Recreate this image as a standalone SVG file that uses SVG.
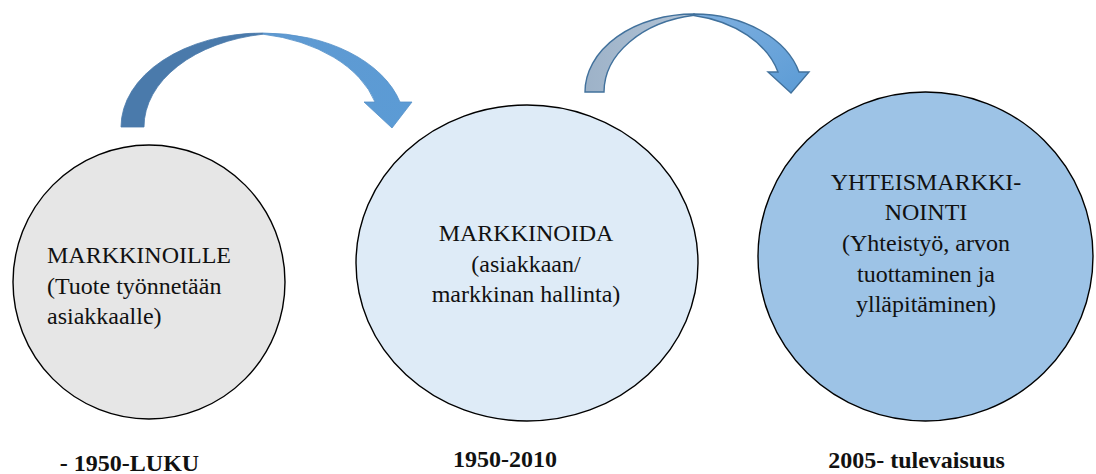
<svg xmlns="http://www.w3.org/2000/svg" width="1096" height="474" viewBox="0 0 1096 474">
  <defs>
    <linearGradient id="frontA" x1="0" y1="0" x2="1" y2="1">
      <stop offset="0" stop-color="#5f9ad2"/>
      <stop offset="1" stop-color="#5b9bd5"/>
    </linearGradient>
    <linearGradient id="frontB" x1="0" y1="0" x2="1" y2="1">
      <stop offset="0" stop-color="#7fb0e0"/>
      <stop offset="1" stop-color="#5b9bd5"/>
    </linearGradient>
    <linearGradient id="backB" x1="0" y1="0" x2="1" y2="0">
      <stop offset="0" stop-color="#9db2c8"/>
      <stop offset="1" stop-color="#b3c4d6"/>
    </linearGradient>
    <style>
      .node { stroke: #000; stroke-width: 1.4; }
      text { font-family: 'Liberation Serif', 'DejaVu Serif', serif; font-size: 24px; fill: #111; }
      .mid { text-anchor: middle; }
      .era { font-weight: bold; text-anchor: middle; }
      .backA { fill: #4a7aab; stroke: #4a7aab; stroke-width: 0.8; }
      .frontA { fill: url(#frontA); stroke: #5590c8; stroke-width: 0.8; }
      .backB { fill: url(#backB); stroke: #41719c; stroke-width: 1.4; }
      .frontB { fill: url(#frontB); stroke: #41719c; stroke-width: 1.4; }
    </style>
  </defs>

  <!-- curved transition arrows: a shaded back band and a lit front band with head -->
  <g id="connectors">
    <g id="arrow-1">
      <path class="backA" d="M121,127 A142,94 0 0 1 263,33 L263,34.2 A142,94 0 0 0 144,127 Z"/>
      <path class="frontA" d="M263,33 A142,94 0 0 1 400,102 L412,102 L392,128 L364,102 L375,102 A142,94 0 0 0 263,34.2 Z"/>
    </g>
    <g id="arrow-2">
      <path class="backB" d="M585,92 A109,78 0 0 1 694,14 L694,15.3 A109,78 0 0 0 604,92 Z"/>
      <path class="frontB" d="M694,14 A109,78 0 0 1 799,72 L809,72 L791,93 L768,72 L778,72 A109,78 0 0 0 694,15.5 Z"/>
    </g>
  </g>

  <g id="node-markkinoille">
    <ellipse class="node" cx="149" cy="282" rx="136" ry="137" fill="#e6e6e6"/>
    <text font-family="Liberation Serif, serif" x="47" y="263">MARKKINOILLE</text>
    <text font-family="Liberation Serif, serif" x="47" y="294">(Tuote työnnetään</text>
    <text font-family="Liberation Serif, serif" x="47" y="324">asiakkaalle)</text>
  </g>

  <g id="node-markkinoida">
    <ellipse class="node" cx="527" cy="263" rx="171" ry="158" fill="#deebf7"/>
    <text class="mid" font-family="Liberation Serif, serif" x="526" y="241">MARKKINOIDA</text>
    <text class="mid" font-family="Liberation Serif, serif" x="526" y="272">(asiakkaan/</text>
    <text class="mid" font-family="Liberation Serif, serif" x="526" y="302">markkinan hallinta)</text>
  </g>

  <g id="node-yhteismarkkinointi">
    <ellipse class="node" cx="925.5" cy="256.5" rx="167.5" ry="164.5" fill="#9dc3e6"/>
    <text class="mid" font-family="Liberation Serif, serif" x="926" y="190">YHTEISMARKKI-</text>
    <text class="mid" font-family="Liberation Serif, serif" x="926" y="220">NOINTI</text>
    <text class="mid" font-family="Liberation Serif, serif" x="926" y="251">(Yhteistyö, arvon</text>
    <text class="mid" font-family="Liberation Serif, serif" x="926" y="282">tuottaminen ja</text>
    <text class="mid" font-family="Liberation Serif, serif" x="926" y="312">ylläpitäminen)</text>
  </g>

  <g id="era-labels">
    <text class="era" font-family="Liberation Serif, serif" x="129.5" y="471">- 1950-LUKU</text>
    <text class="era" font-family="Liberation Serif, serif" x="505" y="467">1950-2010</text>
    <text class="era" font-family="Liberation Serif, serif" x="916.5" y="468">2005- tulevaisuus</text>
  </g>
</svg>
